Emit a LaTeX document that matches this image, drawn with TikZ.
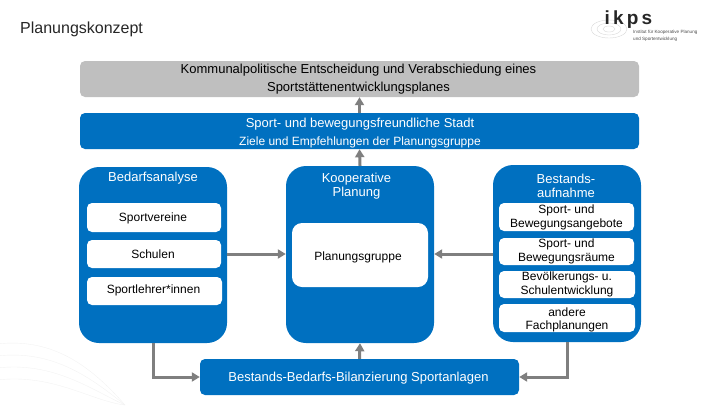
\documentclass[tikz,border=0pt]{standalone}
\usepackage{fontspec}
\setmainfont{Liberation Sans}
\usetikzlibrary{calc,arrows.meta}
\definecolor{ikpsblue}{HTML}{0070C0}
\definecolor{ikpsgrey}{HTML}{BFBFBF}
\definecolor{ikpsarrow}{HTML}{7F7F7F}
\tikzset{
  bar/.style={fill=#1,rounded corners=5pt,minimum width=559pt,minimum height=36pt,inner sep=0pt},
  column/.style={fill=ikpsblue,rounded corners=20pt,minimum width=148pt,inner sep=0pt},
  entry/.style={fill=white,rounded corners=5pt,inner sep=0pt},
  entrytext/.style={inner sep=0pt,align=center,text=black,font=\fontsize{12}{13.3}\selectfont},
  head/.style={text=white,align=center,inner sep=0pt},
  flow/.style={->,draw=ikpsarrow,line width=3pt}
}
\begin{document}
\begin{tikzpicture}[x=1pt,y=-1pt,>={Triangle[length=8pt,width=9pt]},every node/.style={font=\fontsize{13}{14}\selectfont}]
  \useasboundingbox (0,0) rectangle (720,405);
  % watermark and logo
  \foreach \r in {0,12,24,36}
    \draw[black!5] (-10,{345+\r}) .. controls (50,{335+\r}) and (90,{365+\r}) .. (125,{405});
  \foreach \r in {3,6,9}
    \draw[black!15] (609,29) ellipse ({\r*2} and \r);
  \node[inner sep=0pt,font=\bfseries\fontsize{19}{19}\selectfont,text=black!85] (logo) at (628.5,20) {i\,k\,p\,s};
  \node[anchor=north west,inner sep=0pt,align=left,text=black!70,font=\fontsize{4.6}{6.5}\selectfont] (logotext) at (633,30) {Institut für Kooperative Planung\\und Sportentwicklung};
  \node[anchor=west,inner sep=0pt,font=\fontsize{16}{18}\selectfont,text=black!85] (title) at (20,29.5) {Planungskonzept};
  % top bars
  \node[bar=ikpsgrey] (decision) at (359.5,79) {};
  \node[inner sep=0pt,align=center,text=black] (decisiontext) at (358.5,79) {Kommunalpolitische Entscheidung und Verabschiedung eines\\[4pt]Sportstättenentwicklungsplanes};
  \node[bar=ikpsblue] (city) at (359.5,131) {};
  \node[head] (citytext) at (360,133) {Sport- und bewegungsfreundliche Stadt\\[4pt]{\fontsize{12}{14}\selectfont Ziele und Empfehlungen der Planungsgruppe}};
  % columns
  \node[column,minimum height=176pt] (demand) at (153,255) {};
  \node[column,minimum height=177pt] (coop) at (360,254.5) {};
  \node[column,minimum height=177pt] (stock) at (567,253.5) {};
  \node[head] (demandhead) at (153,178) {Bedarfsanalyse};
  \node[head] (coophead) at (356.5,186) {Kooperative\\Planung};
  \node[head] (stockhead) at (566,186) {Bestands-\\aufnahme};
  \node[entry,minimum width=134pt,minimum height=29pt] (clubs) at (154,217.5) {};
  \node[entry,minimum width=134pt,minimum height=28pt] (schools) at (154,254) {};
  \node[entry,minimum width=135pt,minimum height=28pt] (teachers) at (154.5,291) {};
  \node[entrytext] (clubstext) at (153,218) {Sportvereine};
  \node[entrytext] (schoolstext) at (153,254.5) {Schulen};
  \node[entrytext] (teacherstext) at (153.5,290) {Sportlehrer*innen};
  \node[entry,minimum width=136pt,minimum height=64pt,rounded corners=10pt] (group) at (360,255) {};
  \node[entrytext] (grouptext) at (358,257) {Planungsgruppe};
  \node[entry,minimum width=135pt,minimum height=28pt] (offers) at (566.5,217) {};
  \node[entry,minimum width=135pt,minimum height=27pt] (spaces) at (566.5,251.5) {};
  \node[entry,minimum width=136pt,minimum height=27pt] (people) at (567,284.5) {};
  \node[entry,minimum width=136pt,minimum height=28pt] (other) at (567,318) {};
  \node[entrytext] (offerstext) at (566.5,217.5) {Sport- und\\Bewegungsangebote};
  \node[entrytext] (spacestext) at (566.5,251.5) {Sport- und\\Bewegungsräume};
  \node[entrytext] (peopletext) at (567,284.5) {Bevölkerungs- u.\\Schulentwicklung};
  \node[entrytext] (othertext) at (567,320) {andere\\Fachplanungen};
  \node[bar=ikpsblue,minimum width=319pt] (balance) at (359.5,377) {};
  \node[head] (balancetext) at (358.5,378) {Bestands-Bedarfs-Bilanzierung Sportanlagen};
  % arrows
  \draw[flow] (city.north) -- (decision.south);
  \draw[flow] (coop.north) -- (city.south);
  \draw[flow] (balance.north) -- (coop.south);
  \draw[flow] (demand.east |- schools) -- (coop.west |- schools);
  \draw[flow] (stock.west |- schools) -- (coop.east |- schools);
  \draw[flow] (demand.south) |- (balance.west);
  \draw[flow] (stock.south) |- (balance.east);
\end{tikzpicture}
\end{document}
